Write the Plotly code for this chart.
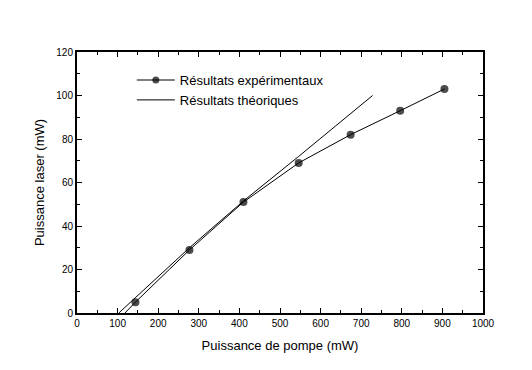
import plotly.graph_objects as go

# Experimental results (first point: laser threshold, drawn without marker)
exp_x = [118, 144, 277, 410, 546, 674, 796, 905]
exp_y = [0, 5, 29, 51, 69, 82, 93, 103]
exp_marker_sizes = [0, 8, 8, 8, 8, 8, 8, 8]

# Theoretical results
th_x = [103, 277, 410, 546, 728]
th_y = [0, 30, 51.5, 72, 100]

font_family = "Arial, Liberation Sans, sans-serif"

fig = go.Figure()
fig.add_trace(go.Scatter(
    x=exp_x, y=exp_y, mode="lines+markers",
    name="Résultats expérimentaux",
    line=dict(color="black", width=1),
    marker=dict(color="black", size=exp_marker_sizes, symbol="circle",
                line=dict(width=0)),
))
fig.add_trace(go.Scatter(
    x=th_x, y=th_y, mode="lines",
    name="Résultats théoriques",
    line=dict(color="black", width=1),
))

axis_common = dict(
    showline=True, linecolor="black", linewidth=2, mirror="allticks",
    ticks="inside", ticklen=5, tickwidth=1, tickcolor="black",
    showgrid=False, zeroline=False,
    tickfont=dict(family=font_family, size=10, color="black"),
)

fig.update_xaxes(
    range=[0, 1000], dtick=100, tick0=0,
    minor=dict(ticks="inside", ticklen=3, dtick=50, tickcolor="black", showgrid=False),
    title=dict(text="Puissance de pompe (mW)", font=dict(family=font_family, size=13, color="black"), standoff=13),
    **axis_common,
)
fig.update_yaxes(
    range=[0, 120], dtick=20, tick0=0,
    minor=dict(ticks="inside", ticklen=3, dtick=10, tickcolor="black", showgrid=False),
    title=dict(text="Puissance laser (mW)", font=dict(family=font_family, size=13, color="black"), standoff=9),
    **axis_common,
)

fig.update_layout(
    width=532, height=370,
    margin=dict(l=69, r=57, t=44, b=65),
    paper_bgcolor="white", plot_bgcolor="white",
    font=dict(family=font_family, color="black"),
    legend=dict(
        x=0.135, y=0.95, xanchor="left", yanchor="top",
        bgcolor="rgba(0,0,0,0)", borderwidth=0,
        font=dict(family=font_family, size=13, color="black"),
        tracegroupgap=0, itemwidth=38,
    ),
)

fig.write_html("out.html")
